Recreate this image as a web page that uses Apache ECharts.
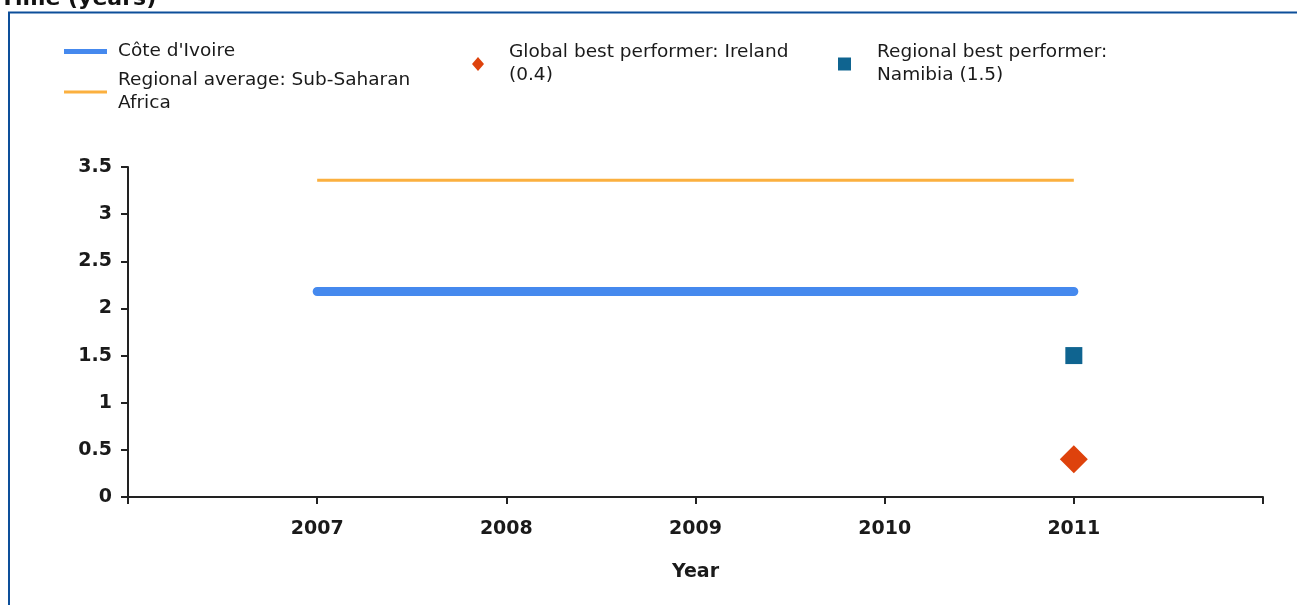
<!DOCTYPE html>
<html>
<head>
<meta charset="utf-8">
<title>Time (years)</title>
<script src="https://cdn.jsdelivr.net/npm/echarts@6/dist/echarts.min.js"></script>
<style>
  html, body { margin: 0; padding: 0; background: #ffffff; }
  #chart { width: 1297px; height: 605px; }
</style>
</head>
<body>
<div id="chart"></div>
<script>
// Years shown on the horizontal axis
const years = [2007, 2008, 2009, 2010, 2011];
// Time to resolve insolvency (years)
const coteDIvoire = [2.18, 2.18, 2.18, 2.18, 2.18];
const regionalAverage = [3.36, 3.36, 3.36, 3.36, 3.36];
const globalBestYear = [2011];
const globalBest = [0.4];
const regionalBestYear = [2011];
const regionalBest = [1.5];

const seriesNames = [
  "Côte d'Ivoire",
  'Regional average: Sub-Saharan Africa',
  'Global best performer: Ireland (0.4)',
  'Regional best performer: Namibia (1.5)'
];
// Legend wording split over lines
const legendLabels = {
  [seriesNames[0]]: "Côte d'Ivoire",
  [seriesNames[1]]: 'Regional average: Sub-Saharan\nAfrica',
  [seriesNames[2]]: 'Global best performer: Ireland\n(0.4)',
  [seriesNames[3]]: 'Regional best performer:\nNamibia (1.5)'
};

const pairs = (xs, ys) => xs.map((x, i) => [x, ys[i]]);

const legendFont = { fontFamily: 'DejaVu Sans', fontSize: 18.5, color: '#1a1a1a', lineHeight: 23 };
const axisFont = { fontFamily: 'DejaVu Sans', fontWeight: 'bold', fontSize: 19, color: '#1a1a1a' };

function legend(name, left, top, w, h, icon, padLeft) {
  return {
    data: [{ name: name, icon: icon }],
    left: left, top: top,
    itemWidth: w, itemHeight: h,
    padding: 0,
    selectedMode: false,
    formatter: (n) => legendLabels[n],
    textStyle: Object.assign({ padding: [0, 0, 0, padLeft] }, legendFont)
  };
}

const chart = echarts.init(document.getElementById('chart'), null, { renderer: 'canvas' });

chart.setOption({
  backgroundColor: '#ffffff',
  animation: false,
  title: {
    text: 'Time (years)',
    left: 0, top: -12, padding: 0,
    textStyle: { fontFamily: 'DejaVu Sans', fontWeight: 'bold', fontSize: 22, color: '#111111' }
  },
  graphic: [{
    type: 'rect',
    shape: { x: 9, y: 12.5, width: 1400, height: 700 },
    style: { fill: 'none', stroke: '#0d4f9a', lineWidth: 2 },
    silent: true
  }],
  legend: [
    legend(seriesNames[0], 64, 40, 43, 5, 'rect', 6),
    legend(seriesNames[1], 64, 69, 43, 3, 'rect', 6),
    legend(seriesNames[2], 472, 41, 12, 14, 'diamond', 20),
    legend(seriesNames[3], 838, 41, 13, 13, 'rect', 21)
  ],
  grid: { left: 128, right: 34, top: 167, bottom: 108, containLabel: false },
  xAxis: {
    type: 'value',
    min: 2006, max: 2012, interval: 1,
    name: 'Year',
    nameLocation: 'middle',
    nameGap: 66,
    nameTextStyle: axisFont,
    axisLine: { show: true, lineStyle: { color: '#222222', width: 2 } },
    axisTick: { show: true, length: 7, lineStyle: { color: '#222222', width: 2 } },
    axisLabel: Object.assign({
      margin: 23,
      formatter: (v) => (years.indexOf(v) >= 0 ? String(v) : ''),
      showMinLabel: true, showMaxLabel: true
    }, axisFont),
    splitLine: { show: false }
  },
  yAxis: {
    type: 'value',
    min: 0, max: 3.5, interval: 0.5,
    axisLine: { show: true, lineStyle: { color: '#222222', width: 2 } },
    axisTick: { show: true, length: 7, lineStyle: { color: '#222222', width: 2 } },
    axisLabel: Object.assign({ margin: 16 }, axisFont),
    splitLine: { show: false }
  },
  series: [
    {
      name: seriesNames[0],
      type: 'line',
      data: pairs(years, coteDIvoire),
      symbol: 'none',
      color: '#4589ee',
      lineStyle: { width: 9, color: '#4589ee', cap: 'round' },
      z: 3
    },
    {
      name: seriesNames[1],
      type: 'line',
      data: pairs(years, regionalAverage),
      symbol: 'none',
      color: '#fbb03f',
      lineStyle: { width: 3, color: '#fbb03f' },
      z: 2
    },
    {
      name: seriesNames[2],
      type: 'scatter',
      data: pairs(globalBestYear, globalBest),
      symbol: 'diamond',
      symbolSize: 28,
      itemStyle: { color: '#de420c', opacity: 1 },
      z: 4
    },
    {
      name: seriesNames[3],
      type: 'scatter',
      data: pairs(regionalBestYear, regionalBest),
      symbol: 'rect',
      symbolSize: 17,
      itemStyle: { color: '#0f6490', opacity: 1 },
      z: 4
    }
  ]
});
</script>
</body>
</html>
